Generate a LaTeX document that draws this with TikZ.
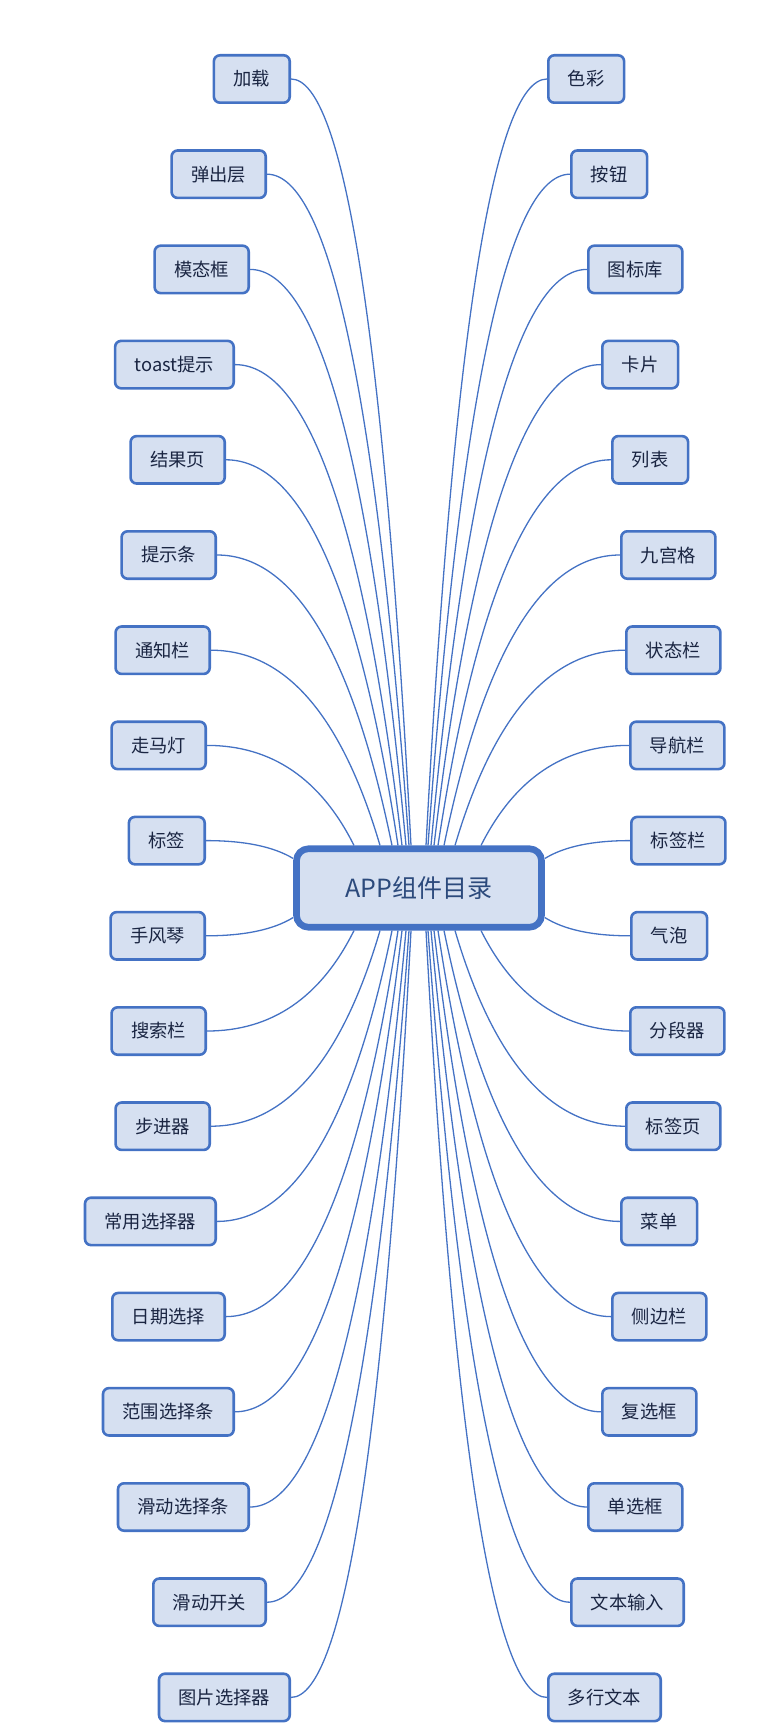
\documentclass[tikz,border=0pt]{standalone}
\usepackage{fontspec}
\newfontfamily\cjk{Noto Sans CJK SC}
\usepackage{tikz}
\usetikzlibrary{calc, backgrounds}
\definecolor{branch}{HTML}{4472C4}
\definecolor{topicfill}{HTML}{D6E0F1}
\definecolor{topictext}{HTML}{1A2542}
\definecolor{roottext}{HTML}{2C4A7C}

\begin{document}
\begin{tikzpicture}[
    x=1pt, y=-1pt,
    leaf/.style={
        rectangle, rounded corners=6pt,
        draw=branch, fill=topicfill, line width=2.6pt,
        font=\cjk\fontsize{18.3}{22}\selectfont, text=topictext,
        minimum height=47.4pt, inner xsep=19.6pt, inner ysep=0pt,
    },
    lleaf/.style={leaf, anchor=east},
    rleaf/.style={leaf, anchor=west},
    maintopic/.style={
        rectangle, rounded corners=12pt,
        draw=branch, fill=topicfill, line width=6.6pt,
        font=\cjk\fontsize{25}{29}\selectfont, text=roottext,
        minimum width=245pt, minimum height=78.5pt,
    },
    branchline/.style={draw=branch, line width=1.3pt},
]
\useasboundingbox (0,0) rectangle (776,1736);

% ── Central topic ──────────────────────────────────────────────────────────
\node[maintopic] (app) at (419, 888) {APP组件目录};

% ── Left branches ──────────────────────────────────────────────────────────
\node[lleaf] (l0)  at (291,   79.0) {加载};
\node[lleaf] (l1)  at (267,  174.2) {弹出层};
\node[lleaf] (l2)  at (250,  269.4) {模态框};
\node[lleaf] (l3)  at (235,  364.6) {toast提示};
\node[lleaf] (l4)  at (226,  459.8) {结果页};
\node[lleaf] (l5)  at (217,  555.0) {提示条};
\node[lleaf] (l6)  at (211,  650.2) {通知栏};
\node[lleaf] (l7)  at (207,  745.4) {走马灯};
\node[lleaf] (l8)  at (206,  840.6) {标签};
\node[lleaf] (l9)  at (206,  935.8) {手风琴};
\node[lleaf] (l10) at (207, 1031.0) {搜索栏};
\node[lleaf] (l11) at (211, 1126.2) {步进器};
\node[lleaf] (l12) at (217, 1221.4) {常用选择器};
\node[lleaf] (l13) at (226, 1316.6) {日期选择};
\node[lleaf] (l14) at (235, 1411.8) {范围选择条};
\node[lleaf] (l15) at (250, 1507.0) {滑动选择条};
\node[lleaf] (l16) at (267, 1602.2) {滑动开关};
\node[lleaf] (l17) at (291, 1697.4) {图片选择器};

% ── Right branches ─────────────────────────────────────────────────────────
\node[rleaf] (r0)  at (547,   79.0) {色彩};
\node[rleaf] (r1)  at (570,  174.2) {按钮};
\node[rleaf] (r2)  at (587,  269.4) {图标库};
\node[rleaf] (r3)  at (601,  364.6) {卡片};
\node[rleaf] (r4)  at (611,  459.8) {列表};
\node[rleaf] (r5)  at (620,  555.0) {九宫格};
\node[rleaf] (r6)  at (625,  650.2) {状态栏};
\node[rleaf] (r7)  at (629,  745.4) {导航栏};
\node[rleaf] (r8)  at (630,  840.6) {标签栏};
\node[rleaf] (r9)  at (630,  935.8) {气泡};
\node[rleaf] (r10) at (629, 1031.0) {分段器};
\node[rleaf] (r11) at (625, 1126.2) {标签页};
\node[rleaf] (r12) at (620, 1221.4) {菜单};
\node[rleaf] (r13) at (611, 1316.6) {侧边栏};
\node[rleaf] (r14) at (601, 1411.8) {复选框};
\node[rleaf] (r15) at (587, 1507.0) {单选框};
\node[rleaf] (r16) at (570, 1602.2) {文本输入};
\node[rleaf] (r17) at (547, 1697.4) {多行文本};

% ── Where the branches meet the central topic ──────────────────────────────
\foreach \i/\dx in {0/-8, 1/-10, 2/-13, 3/-17, 4/-21, 5/-27, 6/-39, 7/-65}
    \coordinate (la\i) at ($(app.north)+(\dx,0)$);
\foreach \i/\dx in {17/-8, 16/-10, 15/-13, 14/-17, 13/-21, 12/-27, 11/-39, 10/-65}
    \coordinate (la\i) at ($(app.south)+(\dx,0)$);
\coordinate (la8) at ($(app.west)+(0,-29.5)$);
\coordinate (la9) at ($(app.west)+(0,29.5)$);
\foreach \i/\dx in {0/7, 1/9, 2/12, 3/15, 4/19, 5/25, 6/36, 7/62}
    \coordinate (ra\i) at ($(app.north)+(\dx,0)$);
\foreach \i/\dx in {17/7, 16/9, 15/12, 14/15, 13/19, 12/25, 11/36, 10/62}
    \coordinate (ra\i) at ($(app.south)+(\dx,0)$);
\coordinate (ra8) at ($(app.east)+(0,-29.5)$);
\coordinate (ra9) at ($(app.east)+(0,29.5)$);

% ── Connectors ─────────────────────────────────────────────────────────────
\begin{scope}[on background layer]
    \foreach \i in {0,...,17}{
        \draw[branchline] let \p1=(l\i.east), \p2=(la\i) in
            (\p1) .. controls ({(\x1)+0.44*((\x2)-(\x1))}, \y1)
                         and ({(\x2)-0.227*((\x2)-(\x1))}, {(\y2)-0.667*((\y2)-(\y1))}) .. (\p2);
        \draw[branchline] let \p1=(r\i.west), \p2=(ra\i) in
            (\p1) .. controls ({(\x1)+0.44*((\x2)-(\x1))}, \y1)
                         and ({(\x2)-0.227*((\x2)-(\x1))}, {(\y2)-0.667*((\y2)-(\y1))}) .. (\p2);
    }
\end{scope}

\end{tikzpicture}
\end{document}
